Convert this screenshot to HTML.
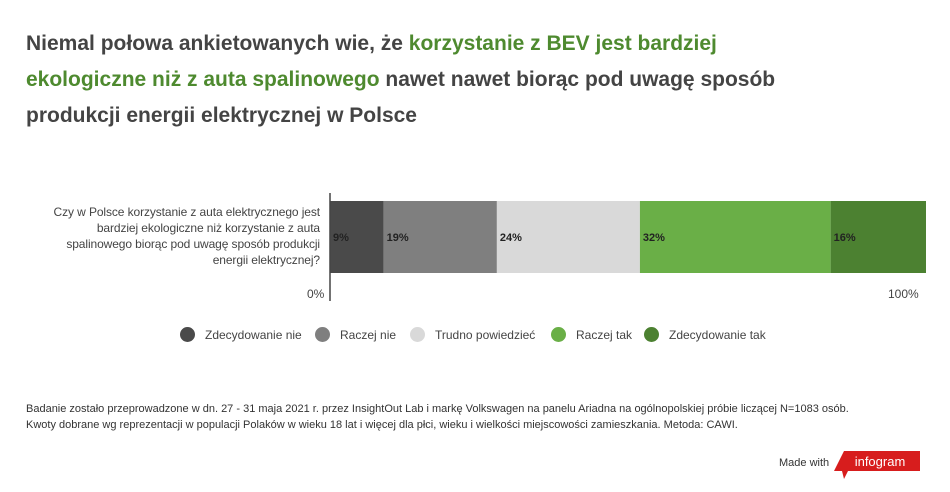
<!DOCTYPE html>
<html><head><meta charset="utf-8"><style>
body{margin:0;width:950px;height:492px;background:#fff;font-family:"Liberation Sans",sans-serif;position:relative;overflow:hidden}
.t{position:absolute;left:26px;top:26px;width:800px;font-size:21px;font-weight:bold;color:#444;line-height:36px}
.g{color:#4e8a2f}
.q{position:absolute;left:0px;top:204px;width:320px;text-align:right;font-size:12px;color:#444;line-height:16px;white-space:nowrap;letter-spacing:-0.1px}
.ax{position:absolute;font-size:12px;color:#444}
.leg{position:absolute;top:327px;font-size:12px;color:#444;display:flex;align-items:center}
.leg i{display:inline-block;width:15px;height:15px;border-radius:50%;margin-right:10px}
.n{position:absolute;left:26px;font-size:11px;color:#333}
</style></head><body>
<div class="t">Niemal połowa ankietowanych wie, że <span class="g">korzystanie z BEV jest bardziej ekologiczne niż z auta spalinowego</span> nawet nawet biorąc pod uwagę sposób produkcji energii elektrycznej w Polsce</div>
<div class="q">Czy w Polsce korzystanie z auta elektrycznego jest<br>bardziej ekologiczne niż korzystanie z auta<br>spalinowego biorąc pod uwagę sposób produkcji<br>energii elektrycznej?</div>
<div class="ax" style="left:307px;top:287px">0%</div>
<div class="ax" style="left:888px;top:287px">100%</div>
<svg id="c" width="950" height="492" style="position:absolute;left:0;top:0"></svg>
<div id="legend"></div>
<div class="n" style="top:403px">Badanie zostało przeprowadzone w dn. 27 - 31 maja 2021 r. przez InsightOut Lab i markę Volkswagen na panelu Ariadna na ogólnopolskiej próbie liczącej N=1083 osób.</div>
<div class="n" style="top:419px">Kwoty dobrane wg reprezentacji w populacji Polaków w wieku 18 lat i więcej dla płci, wieku i wielkości miejscowości zamieszkania. Metoda: CAWI.</div>
<div style="position:absolute;left:779px;top:457px;font-size:11px;color:#333">Made with</div>
<svg style="position:absolute;left:832px;top:449px" width="90" height="35"><polygon points="12,2 88,2 88,22 16,22 12,30 10,22 2,22" fill="#d71d1d"/><text x="48" y="17" fill="#fff" font-size="13" text-anchor="middle" font-family="Liberation Sans">infogram</text></svg>
<script>
const categories=["Zdecydowanie nie","Raczej nie","Trudno powiedzieć","Raczej tak","Zdecydowanie tak"];
const values=[9,19,24,32,16];
const colors=["#4a4a4a","#7f7f7f","#d9d9d9","#6aaf47","#4c8131"];
const x0=330,x1=926,total=100;
const sx=v=>x0+(x1-x0)*v/total;
const svg=document.getElementById('c');const NS="http://www.w3.org/2000/svg";
let cum=0;
values.forEach((v,i)=>{
 const r=document.createElementNS(NS,'rect');
 r.setAttribute('x',sx(cum));r.setAttribute('y',201);r.setAttribute('width',sx(cum+v)-sx(cum));r.setAttribute('height',72);r.setAttribute('fill',colors[i]);
 
 
 svg.appendChild(r);
 const t=document.createElementNS(NS,'text');
 t.setAttribute('x',sx(cum)+3);t.setAttribute('y',241);t.setAttribute('font-size','11');t.setAttribute('font-weight','bold');t.setAttribute('fill','#222');t.textContent=v+'%';
 
 
 svg.appendChild(t);
 cum+=v;
});
const ln=document.createElementNS(NS,'line');
ln.setAttribute('x1',330);ln.setAttribute('x2',330);ln.setAttribute('y1',193);ln.setAttribute('y2',301);ln.setAttribute('stroke','#444');ln.setAttribute('stroke-width','1.5');


svg.appendChild(ln);
const lx=[180,315,410,551,644];
const lg=document.getElementById('legend');
categories.forEach((c,i)=>{
 const d=document.createElement('div');d.className='leg';d.style.left=lx[i]+'px';
 d.innerHTML='<i style="background:'+colors[i]+'"></i>'+c;
 
 
 lg.appendChild(d);
});
</script>
</body></html>
